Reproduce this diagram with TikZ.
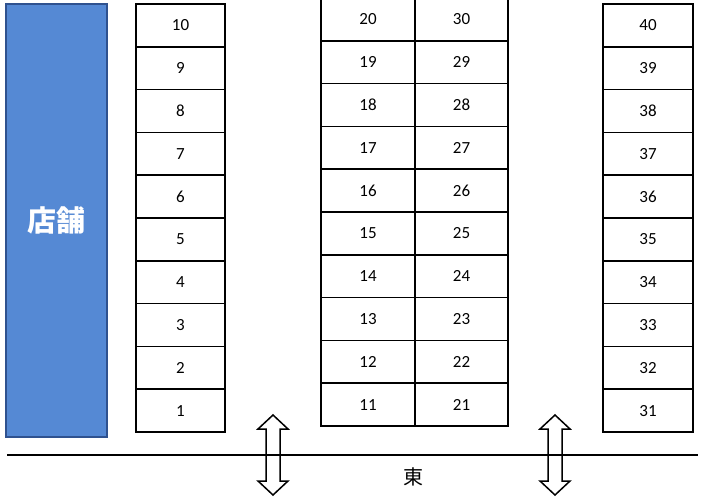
\documentclass[tikz,border=0pt]{standalone}
\usepackage{fontspec}
\usepackage{xcolor}
\usepackage{tikz}
\setmainfont{Carlito}
\newfontfamily\jpfont{Noto Sans CJK JP}
\definecolor{storeblue}{RGB}{85,137,212}
\definecolor{storeedge}{RGB}{47,82,143}

\begin{document}
\begin{tikzpicture}[x=1pt,y=-1pt,
    stall/.style={draw, line width=1.6pt, inner sep=0pt,
        minimum height=42.8pt, font=\fontsize{17}{19}\selectfont},
    store/.style={draw=storeedge, fill=storeblue, line width=1.5pt,
        minimum width=101pt, minimum height=433pt, text=white,
        font=\jpfont\bfseries\fontsize{29}{33}\selectfont}]
    \useasboundingbox (0,0) rectangle (709,500);

    % store
    \node[store] (shop) at (56.5,220.5) {店舗};

    % parking stalls
    \foreach \k in {1,...,10} {
        \node[stall, minimum width=89pt] (p\k) at (180.5,{432-(\k-0.5)*42.8}) {\k};
    }
    \foreach \k [evaluate=\k as \a using int(\k+10),
                 evaluate=\k as \b using int(\k+20)] in {1,...,10} {
        \node[stall, minimum width=93.5pt] (p\a) at (368,{426-(\k-0.5)*42.8}) {\a};
        \node[stall, minimum width=93.5pt] (p\b) at (461.5,{426-(\k-0.5)*42.8}) {\b};
    }
    \foreach \k [evaluate=\k as \c using int(\k+30)] in {1,...,10} {
        \node[stall, minimum width=90pt] (p\c) at (648,{432-(\k-0.5)*42.8}) {\c};
    }

    % road
    \coordinate (roadw) at (7,455);
    \coordinate (roade) at (698,455);
    \draw[line width=1.8pt] (roadw) -- (roade);
    \node[font=\jpfont\fontsize{20}{24}\selectfont] (east) at (413,477) {東};

    % entrances
    \foreach \cx in {273,555} {
        \draw[line width=1.5pt, line join=miter]
            (\cx,415) -- (\cx+15,429) -- (\cx+7,429) -- (\cx+7,481)
            -- (\cx+15,481) -- (\cx,495) -- (\cx-15,481) -- (\cx-7,481)
            -- (\cx-7,429) -- (\cx-15,429) -- cycle;
    }
\end{tikzpicture}
\end{document}
